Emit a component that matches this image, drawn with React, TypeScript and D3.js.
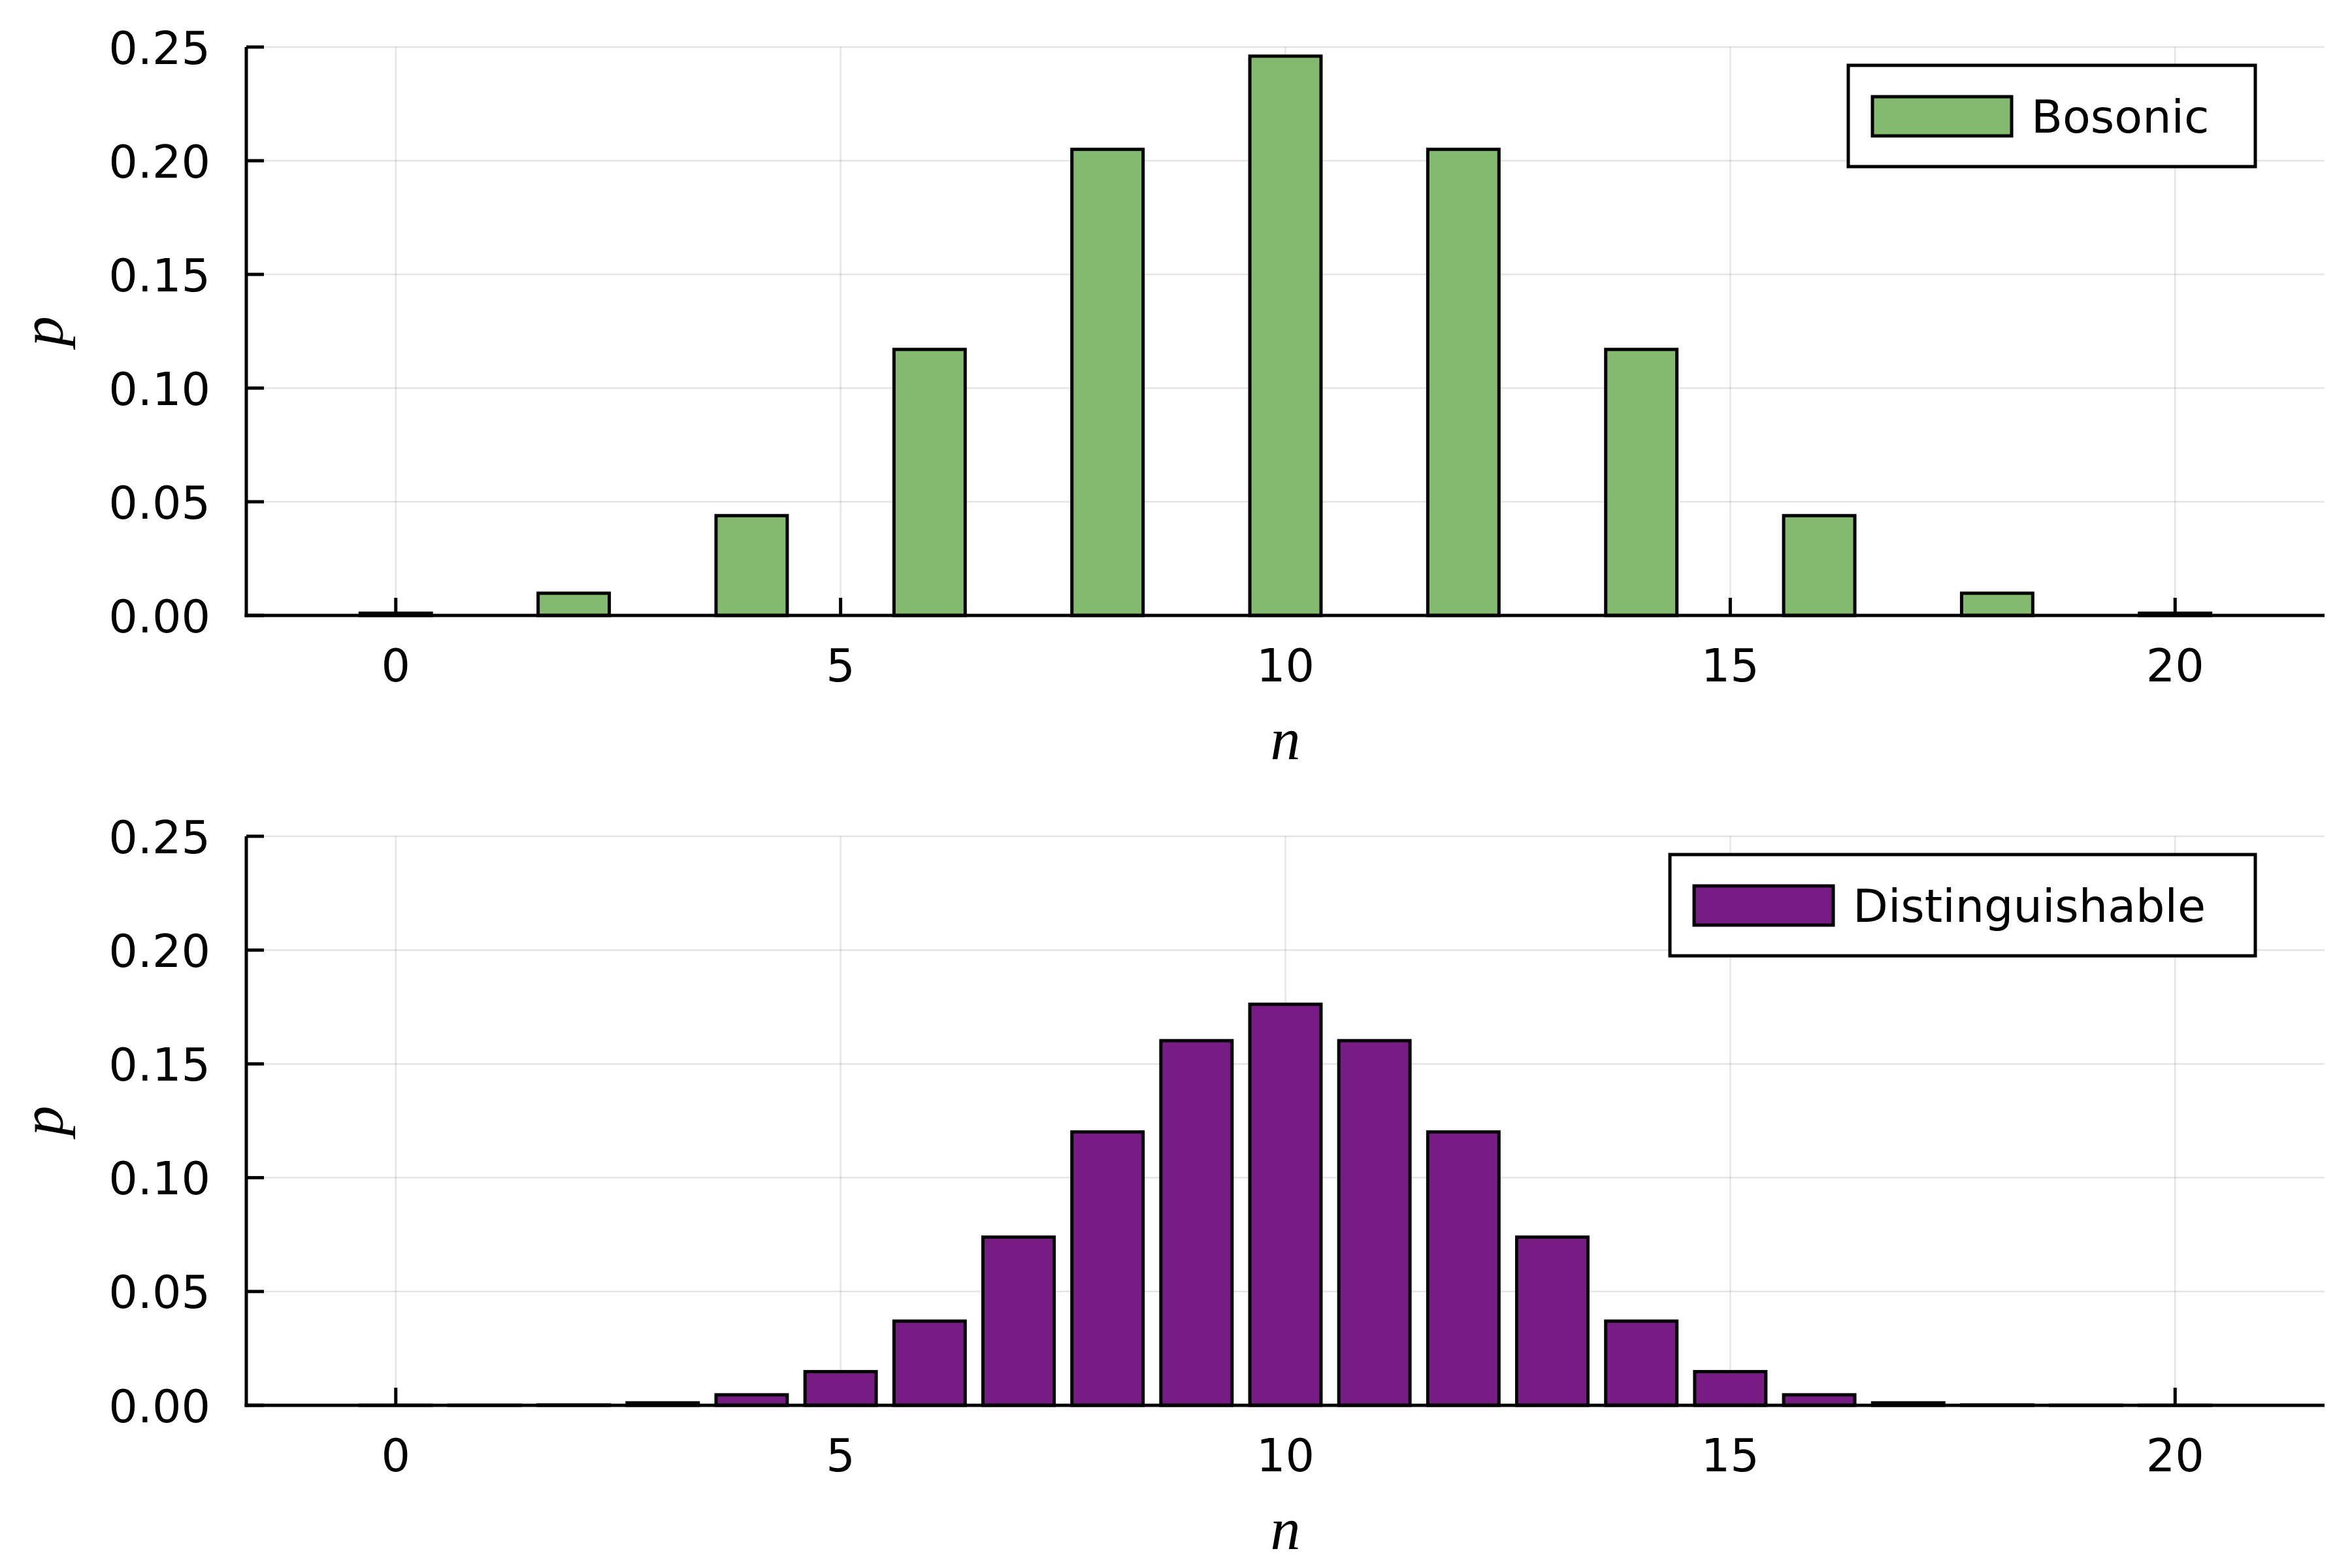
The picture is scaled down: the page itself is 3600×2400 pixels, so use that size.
import React from "react";
import * as d3 from "d3";

const bosonicN = [0, 2, 4, 6, 8, 10, 12, 14, 16, 18, 20];
const bosonicP = [0.000977, 0.00977, 0.0439, 0.117, 0.205, 0.246, 0.205, 0.117, 0.0439, 0.00977, 0.000977];

const distN = [0, 1, 2, 3, 4, 5, 6, 7, 8, 9, 10, 11, 12, 13, 14, 15, 16, 17, 18, 19, 20];
const distP = [
  0.00000095, 0.000019, 0.00018, 0.00109, 0.00462, 0.0148, 0.037, 0.0739, 0.1201, 0.1602, 0.1762,
  0.1602, 0.1201, 0.0739, 0.037, 0.0148, 0.00462, 0.00109, 0.00018, 0.000019, 0.00000095,
];

const xTicks = [0, 5, 10, 15, 20];
const yTicks = [0, 0.05, 0.1, 0.15, 0.2, 0.25];
const yTickLabels = ["0.00", "0.05", "0.10", "0.15", "0.20", "0.25"];

const W = 3600;
const H = 2400;
const LEFT = 377;
const RIGHT = 3558;
const FONT = "DejaVu Sans";
const MATHFONT = "Liberation Serif";

type PanelProps = {
  top: number;
  bottom: number;
  ns: number[];
  ps: number[];
  color: string;
  label: string;
  legendLeft: number;
};

function Panel({ top, bottom, ns, ps, color, label, legendLeft }: PanelProps) {
  const x = d3.scaleLinear().domain([-1.68, 21.68]).range([LEFT, RIGHT]);
  const y = d3.scaleLinear().domain([0, 0.25]).range([bottom, top]);
  const bw = x(0.8) - x(0);
  const tickLen = 27;
  const legTop = top + 28;
  const legH = 155;
  const legRight = 3452;
  return (
    <g>
      {/* grid */}
      {xTicks.map((t) => (
        <line key={"gx" + t} x1={x(t)} x2={x(t)} y1={top} y2={bottom} stroke="#000" strokeOpacity={0.1} strokeWidth={2.5} />
      ))}
      {yTicks.map((t) => (
        <line key={"gy" + t} x1={LEFT} x2={RIGHT} y1={y(t)} y2={y(t)} stroke="#000" strokeOpacity={0.1} strokeWidth={2.5} />
      ))}
      {/* ticks */}
      {xTicks.map((t) => (
        <line key={"tx" + t} x1={x(t)} x2={x(t)} y1={bottom} y2={bottom - tickLen} stroke="#000" strokeWidth={5} />
      ))}
      {yTicks.map((t) => (
        <line key={"ty" + t} x1={LEFT} x2={LEFT + tickLen} y1={y(t)} y2={y(t)} stroke="#000" strokeWidth={5} />
      ))}
      {/* bars */}
      {ns.map((n, i) => (
        <rect
          key={"b" + n}
          x={x(n) - bw / 2}
          y={y(ps[i])}
          width={bw}
          height={y(0) - y(ps[i])}
          fill={color}
          stroke="#000"
          strokeWidth={5}
        />
      ))}
      {/* axes */}
      <line x1={LEFT} x2={LEFT} y1={top} y2={bottom + 2.5} stroke="#000" strokeWidth={5} />
      <line x1={LEFT - 2.5} x2={RIGHT} y1={bottom} y2={bottom} stroke="#000" strokeWidth={5} />
      {/* tick labels */}
      {xTicks.map((t) => (
        <text key={"lx" + t} x={x(t)} y={bottom + 101} textAnchor="middle" fontFamily={FONT} fontSize={70} fill="#000">
          {t}
        </text>
      ))}
      {yTicks.map((t, i) => (
        <text key={"ly" + t} x={322} y={y(t) + 25.5} textAnchor="end" fontFamily={FONT} fontSize={70} fill="#000">
          {yTickLabels[i]}
        </text>
      ))}
      {/* axis labels */}
      <text x={(LEFT + RIGHT) / 2} y={bottom + 220} textAnchor="middle" fontFamily={MATHFONT} fontStyle="italic" fontSize={92} fill="#000">
        n
      </text>
      <text
        transform={`translate(96,${(top + bottom) / 2}) rotate(-90)`}
        textAnchor="middle"
        fontFamily={MATHFONT}
        fontStyle="italic"
        fontSize={92}
        fill="#000"
      >
        p
      </text>
      {/* legend */}
      <rect x={legendLeft} y={legTop} width={legRight - legendLeft} height={legH} fill="#fff" stroke="#000" strokeWidth={5} />
      <rect x={legendLeft + 37} y={legTop + 48} width={213} height={60} fill={color} stroke="#000" strokeWidth={5} />
      <text x={legendLeft + 280} y={legTop + 103} fontFamily={FONT} fontSize={70} fill="#000">
        {label}
      </text>
    </g>
  );
}

export default function App() {
  return (
    <svg
      width={W}
      height={H}
      viewBox={`0 0 ${W} ${H}`}
      style={{ position: "absolute", left: 0, top: 0, background: "#fff" }}
      xmlns="http://www.w3.org/2000/svg"
    >
      <rect x={0} y={0} width={W} height={H} fill="#fff" />
      <Panel top={72} bottom={942} ns={bosonicN} ps={bosonicP} color="#84ba6e" label="Bosonic" legendLeft={2829} />
      <Panel top={1280} bottom={2151} ns={distN} ps={distP} color="#781c85" label="Distinguishable" legendLeft={2556} />
    </svg>
  );
}
